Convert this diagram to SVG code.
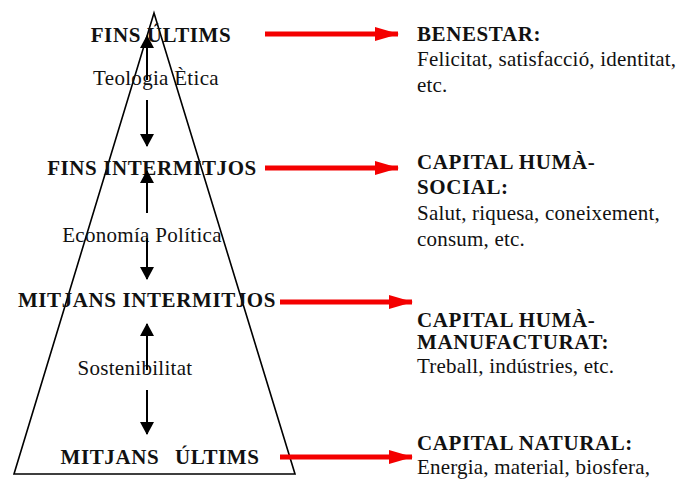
<svg xmlns="http://www.w3.org/2000/svg" width="685" height="480" viewBox="0 0 685 480">
  <defs>
    <marker id="blackHead" viewBox="0 0 13 14" refX="12" refY="7" markerWidth="13" markerHeight="14" markerUnits="userSpaceOnUse" orient="auto">
      <path d="M0,0 L13,7 L0,14 Z" fill="#000"/>
    </marker>
    <marker id="redHead" viewBox="0 0 24 14" refX="23" refY="7" markerWidth="24" markerHeight="14" markerUnits="userSpaceOnUse" orient="auto">
      <path d="M0,0 L24,7 L0,14 Z" fill="#f40000"/>
    </marker>
  </defs>
  <style>
    .lvl { font-weight: bold; letter-spacing: 0.6px; text-anchor: middle; }
    .mid { text-anchor: middle; letter-spacing: 0.3px; }
    .head { font-weight: bold; letter-spacing: 0.6px; }
    .body { letter-spacing: 0.2px; }
    .bk { stroke: #000; stroke-width: 2; fill: none; marker-end: url(#blackHead); }
    .rd { stroke: #f40000; stroke-width: 5; fill: none; marker-end: url(#redHead); }
  </style>

  <rect width="685" height="480" fill="#fff"/>

  <!-- pyramid outline -->
  <g id="pyramid">
    <path d="M154,13 L295,474 L14,474 Z" fill="none" stroke="#000" stroke-width="1.6" stroke-linejoin="miter"/>
  </g>

  <g font-family="Liberation Serif" font-size="21" fill="#111">
    <!-- levels of the pyramid -->
    <g id="fins-ultims"><text class="lvl" x="161" y="42">FINS ÚLTIMS</text></g>
    <g id="teologia-etica"><text class="mid" x="156" y="85">Teologia Ètica</text></g>
    <g id="fins-intermitjos"><text class="lvl" x="152" y="175">FINS INTERMITJOS</text></g>
    <g id="economia-politica"><text class="mid" x="142" y="242">Economía Política</text></g>
    <g id="mitjans-intermitjos"><text class="lvl" x="147" y="307">MITJANS INTERMITJOS</text></g>
    <g id="sostenibilitat"><text class="mid" x="135" y="375">Sostenibilitat</text></g>
    <g id="mitjans-ultims"><text class="lvl" x="160" y="464" xml:space="preserve">MITJANS <tspan dx="4"> ÚLTIMS</tspan></text></g>

    <!-- capital descriptions -->
    <g id="benestar">
      <text class="head" x="417" y="41">BENESTAR:</text>
      <text class="body" x="417" y="66">Felicitat, satisfacció, identitat,</text>
      <text class="body" x="417" y="92">etc.</text>
    </g>
    <g id="capital-huma-social">
      <text class="head" x="417" y="169">CAPITAL HUMÀ-</text>
      <text class="head" x="417" y="194">SOCIAL:</text>
      <text class="body" x="417" y="220">Salut, riquesa, coneixement,</text>
      <text class="body" x="417" y="246">consum, etc.</text>
    </g>
    <g id="capital-huma-manufacturat">
      <text class="head" x="417" y="327">CAPITAL HUMÀ-</text>
      <text class="head" x="417" y="349">MANUFACTURAT:</text>
      <text class="body" x="417" y="373">Treball, indústries, etc.</text>
    </g>
    <g id="capital-natural">
      <text class="head" x="417" y="450">CAPITAL NATURAL:</text>
      <text class="body" x="417" y="474">Energia, material, biosfera,</text>
    </g>
  </g>

  <!-- connectors -->
  <g id="connectors">
    <line class="bk" x1="147" y1="80" x2="147" y2="36"/>
    <line class="bk" x1="147" y1="100" x2="147" y2="146"/>
    <line class="bk" x1="147" y1="213" x2="147" y2="171"/>
    <line class="bk" x1="147" y1="238" x2="147" y2="279"/>
    <line class="bk" x1="147" y1="370" x2="147" y2="324"/>
    <line class="bk" x1="147" y1="390" x2="147" y2="434"/>

    <line class="rd" x1="265" y1="34" x2="398" y2="34"/>
    <line class="rd" x1="265" y1="168" x2="398" y2="168"/>
    <line class="rd" x1="280" y1="302" x2="412" y2="302"/>
    <line class="rd" x1="280" y1="457" x2="412" y2="457"/>
  </g>
</svg>
